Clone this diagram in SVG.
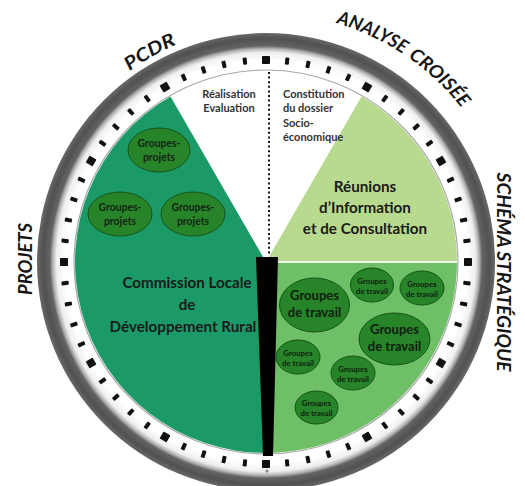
<svg xmlns="http://www.w3.org/2000/svg" xmlns:xlink="http://www.w3.org/1999/xlink" width="525" height="486" viewBox="0 0 525 486">
<defs>
<radialGradient id="bezel" gradientUnits="userSpaceOnUse" cx="266" cy="262" r="229">
<stop offset="0" stop-color="#ffffff"/>
<stop offset="0.83" stop-color="#ffffff"/>
<stop offset="0.88" stop-color="#ffffff"/>
<stop offset="0.915" stop-color="#efefef"/>
<stop offset="0.932" stop-color="#b0b0b0"/>
<stop offset="0.944" stop-color="#636363"/>
<stop offset="0.975" stop-color="#515151"/>
<stop offset="1" stop-color="#686868"/>
</radialGradient>
<rect id="tk" x="-2" y="-3.6" width="4" height="7.2" rx="0.8"/>
<rect id="TK" x="-4" y="-4" width="8" height="8" rx="0.8"/>
<path id="arcL" d="M 67.6 138.0 A 236 236 0 0 1 266 26" fill="none"/>
<path id="arcR" d="M 266 13 A 249 249 0 0 1 495.2 164.7" fill="none"/>
</defs>
<style>
.lbl{font-family:Lato,"Open Sans","Liberation Sans",sans-serif;font-weight:bold;font-style:italic;font-size:18.5px;fill:#161616}
.main{font-family:Lato,"Open Sans","Liberation Sans",sans-serif;font-weight:bold;font-size:15.2px;fill:#1a1a1a;text-anchor:middle}
.gray{font-family:Lato,"Open Sans","Liberation Sans",sans-serif;font-weight:bold;font-size:11px;fill:#333333}
.ell{fill:#278428;stroke:#155415;stroke-width:1}
.gp{font-family:Lato,"Open Sans","Liberation Sans",sans-serif;font-weight:bold;font-size:10.4px;fill:#142414;text-anchor:middle}
.gtB{font-family:Lato,"Open Sans","Liberation Sans",sans-serif;font-weight:bold;font-size:13px;fill:#102010;text-anchor:middle}
.gtS{font-family:Lato,"Open Sans","Liberation Sans",sans-serif;font-weight:bold;font-size:7.8px;fill:#102010;text-anchor:middle}
.ticks use{fill:#111}
</style>
<rect width="525" height="486" fill="#ffffff"/>
<g id="clock-frame">
<circle cx="266" cy="262" r="229" fill="url(#bezel)"/>
<circle cx="266" cy="262" r="192" fill="#ffffff" stroke="#a8a8a8" stroke-width="1.2"/>
</g>
<g id="ticks" class="ticks">
<use href="#TK" transform="rotate(0 266 262) translate(266 60)"/>
<use href="#tk" transform="rotate(6 266 262) translate(266 60)"/>
<use href="#tk" transform="rotate(12 266 262) translate(266 60)"/>
<use href="#tk" transform="rotate(18 266 262) translate(266 60)"/>
<use href="#tk" transform="rotate(24 266 262) translate(266 60)"/>
<use href="#TK" transform="rotate(30 266 262) translate(266 60)"/>
<use href="#tk" transform="rotate(36 266 262) translate(266 60)"/>
<use href="#tk" transform="rotate(42 266 262) translate(266 60)"/>
<use href="#tk" transform="rotate(48 266 262) translate(266 60)"/>
<use href="#tk" transform="rotate(54 266 262) translate(266 60)"/>
<use href="#TK" transform="rotate(60 266 262) translate(266 60)"/>
<use href="#tk" transform="rotate(66 266 262) translate(266 60)"/>
<use href="#tk" transform="rotate(72 266 262) translate(266 60)"/>
<use href="#tk" transform="rotate(78 266 262) translate(266 60)"/>
<use href="#tk" transform="rotate(84 266 262) translate(266 60)"/>
<use href="#TK" transform="rotate(90 266 262) translate(266 60)"/>
<use href="#tk" transform="rotate(96 266 262) translate(266 60)"/>
<use href="#tk" transform="rotate(102 266 262) translate(266 60)"/>
<use href="#tk" transform="rotate(108 266 262) translate(266 60)"/>
<use href="#tk" transform="rotate(114 266 262) translate(266 60)"/>
<use href="#TK" transform="rotate(120 266 262) translate(266 60)"/>
<use href="#tk" transform="rotate(126 266 262) translate(266 60)"/>
<use href="#tk" transform="rotate(132 266 262) translate(266 60)"/>
<use href="#tk" transform="rotate(138 266 262) translate(266 60)"/>
<use href="#tk" transform="rotate(144 266 262) translate(266 60)"/>
<use href="#TK" transform="rotate(150 266 262) translate(266 60)"/>
<use href="#tk" transform="rotate(156 266 262) translate(266 60)"/>
<use href="#tk" transform="rotate(162 266 262) translate(266 60)"/>
<use href="#tk" transform="rotate(168 266 262) translate(266 60)"/>
<use href="#tk" transform="rotate(174 266 262) translate(266 60)"/>
<use href="#TK" transform="rotate(180 266 262) translate(266 60)"/>
<use href="#tk" transform="rotate(186 266 262) translate(266 60)"/>
<use href="#tk" transform="rotate(192 266 262) translate(266 60)"/>
<use href="#tk" transform="rotate(198 266 262) translate(266 60)"/>
<use href="#tk" transform="rotate(204 266 262) translate(266 60)"/>
<use href="#TK" transform="rotate(210 266 262) translate(266 60)"/>
<use href="#tk" transform="rotate(216 266 262) translate(266 60)"/>
<use href="#tk" transform="rotate(222 266 262) translate(266 60)"/>
<use href="#tk" transform="rotate(228 266 262) translate(266 60)"/>
<use href="#tk" transform="rotate(234 266 262) translate(266 60)"/>
<use href="#TK" transform="rotate(240 266 262) translate(266 60)"/>
<use href="#tk" transform="rotate(246 266 262) translate(266 60)"/>
<use href="#tk" transform="rotate(252 266 262) translate(266 60)"/>
<use href="#tk" transform="rotate(258 266 262) translate(266 60)"/>
<use href="#tk" transform="rotate(264 266 262) translate(266 60)"/>
<use href="#TK" transform="rotate(270 266 262) translate(266 60)"/>
<use href="#tk" transform="rotate(276 266 262) translate(266 60)"/>
<use href="#tk" transform="rotate(282 266 262) translate(266 60)"/>
<use href="#tk" transform="rotate(288 266 262) translate(266 60)"/>
<use href="#tk" transform="rotate(294 266 262) translate(266 60)"/>
<use href="#TK" transform="rotate(300 266 262) translate(266 60)"/>
<use href="#tk" transform="rotate(306 266 262) translate(266 60)"/>
<use href="#tk" transform="rotate(312 266 262) translate(266 60)"/>
<use href="#tk" transform="rotate(318 266 262) translate(266 60)"/>
<use href="#tk" transform="rotate(324 266 262) translate(266 60)"/>
<use href="#TK" transform="rotate(330 266 262) translate(266 60)"/>
<use href="#tk" transform="rotate(336 266 262) translate(266 60)"/>
<use href="#tk" transform="rotate(342 266 262) translate(266 60)"/>
<use href="#tk" transform="rotate(348 266 262) translate(266 60)"/>
<use href="#tk" transform="rotate(354 266 262) translate(266 60)"/>
</g>
<g id="sector-commission">
<path d="M266 262 L266 453 A191 191 0 0 1 170.5 96.6 Z" fill="#1b9a68"/>
</g>
<g id="sector-reunions">
<path d="M266 262 L361.5 96.6 A191 191 0 0 1 457 262 Z" fill="#b8da8e"/>
</g>
<g id="sector-groupes-travail">
<path d="M266 262 L457 262 A191 191 0 0 1 266 453 Z" fill="#6fbf66"/>
<line x1="266" y1="262" x2="457" y2="262" stroke="#eef5e6" stroke-width="2"/>
</g>
<g id="connectors">
<line x1="269" y1="72" x2="269" y2="255" stroke="#111" stroke-width="2" stroke-dasharray="2 2.6"/>
</g>
<g id="hand">
<polygon points="256,257 278,257 273,456 263,456" fill="#000"/>
<circle cx="267" cy="471" r="1.6" fill="#888"/>
</g>
<g id="label-pcdr"><text class="lbl"><textPath href="#arcL" startOffset="50%" text-anchor="middle" textLength="54" lengthAdjust="spacingAndGlyphs">PCDR</textPath></text></g>
<g id="label-analyse">
<text class="lbl"><textPath href="#arcR" startOffset="108" text-anchor="middle" textLength="74" lengthAdjust="spacingAndGlyphs">ANALYSE</textPath></text>
<text class="lbl"><textPath href="#arcR" startOffset="188" text-anchor="middle" textLength="74" lengthAdjust="spacingAndGlyphs">CROISÉE</textPath></text>
</g>
<g id="label-schema"><text class="lbl" transform="translate(497 272) rotate(90)" text-anchor="middle" textLength="199" lengthAdjust="spacingAndGlyphs">SCHÉMA STRATÉGIQUE</text></g>
<g id="label-projets"><text class="lbl" transform="translate(32 259) rotate(-90)" text-anchor="middle" textLength="72" lengthAdjust="spacingAndGlyphs">PROJETS</text></g>
<g id="node-realisation">
<text class="gray" text-anchor="middle"><tspan x="229" y="98">Réalisation</tspan><tspan x="229" y="112">Evaluation</tspan></text>
</g>
<g id="node-constitution">
<text class="gray"><tspan x="283" y="98">Constitution</tspan><tspan x="283" y="112">du dossier</tspan><tspan x="283" y="127">Socio-</tspan><tspan x="283" y="141">économique</tspan></text>
</g>
<g id="node-reunions">
<text class="main"><tspan x="365" y="192">Réunions</tspan><tspan x="365" y="213">d’Information</tspan><tspan x="365" y="234">et de Consultation</tspan></text>
</g>
<g id="node-commission">
<text class="main"><tspan x="187" y="288">Commission Locale</tspan><tspan x="187" y="310">de</tspan><tspan x="183" y="332">Développement Rural</tspan></text>
</g>
<g id="node-gp1"><ellipse class="ell" cx="159" cy="150" rx="31" ry="22"/><text class="gp"><tspan x="159" y="147">Groupes-</tspan><tspan x="159" y="161">projets</tspan></text></g>
<g id="node-gp2"><ellipse class="ell" cx="120" cy="214" rx="32" ry="22"/><text class="gp"><tspan x="120" y="211">Groupes-</tspan><tspan x="120" y="225">projets</tspan></text></g>
<g id="node-gp3"><ellipse class="ell" cx="193" cy="214" rx="32" ry="22"/><text class="gp"><tspan x="193" y="211">Groupes-</tspan><tspan x="193" y="225">projets</tspan></text></g>
<g id="node-gt1"><ellipse class="ell" cx="314.5" cy="305" rx="35" ry="27"/><text class="gtB"><tspan x="314.5" y="300">Groupes</tspan><tspan x="314.5" y="317">de travail</tspan></text></g>
<g id="node-gt2"><ellipse class="ell" cx="372" cy="285" rx="21.5" ry="17"/><text class="gtS"><tspan x="372" y="284">Groupes</tspan><tspan x="372" y="294">de travail</tspan></text></g>
<g id="node-gt3"><ellipse class="ell" cx="422" cy="288" rx="22" ry="17"/><text class="gtS"><tspan x="422" y="287">Groupes</tspan><tspan x="422" y="297">de travail</tspan></text></g>
<g id="node-gt4"><ellipse class="ell" cx="394.5" cy="339" rx="35.5" ry="26"/><text class="gtB"><tspan x="394.5" y="334">Groupes</tspan><tspan x="394.5" y="351">de travail</tspan></text></g>
<g id="node-gt5"><ellipse class="ell" cx="298" cy="357" rx="22" ry="17"/><text class="gtS"><tspan x="298" y="356">Groupes</tspan><tspan x="298" y="366">de travail</tspan></text></g>
<g id="node-gt6"><ellipse class="ell" cx="353" cy="373" rx="22" ry="17"/><text class="gtS"><tspan x="353" y="372">Groupes</tspan><tspan x="353" y="382">de travail</tspan></text></g>
<g id="node-gt7"><ellipse class="ell" cx="316.5" cy="407.5" rx="21.5" ry="16.5"/><text class="gtS"><tspan x="316.5" y="406">Groupes</tspan><tspan x="316.5" y="416">de travail</tspan></text></g>
</svg>
